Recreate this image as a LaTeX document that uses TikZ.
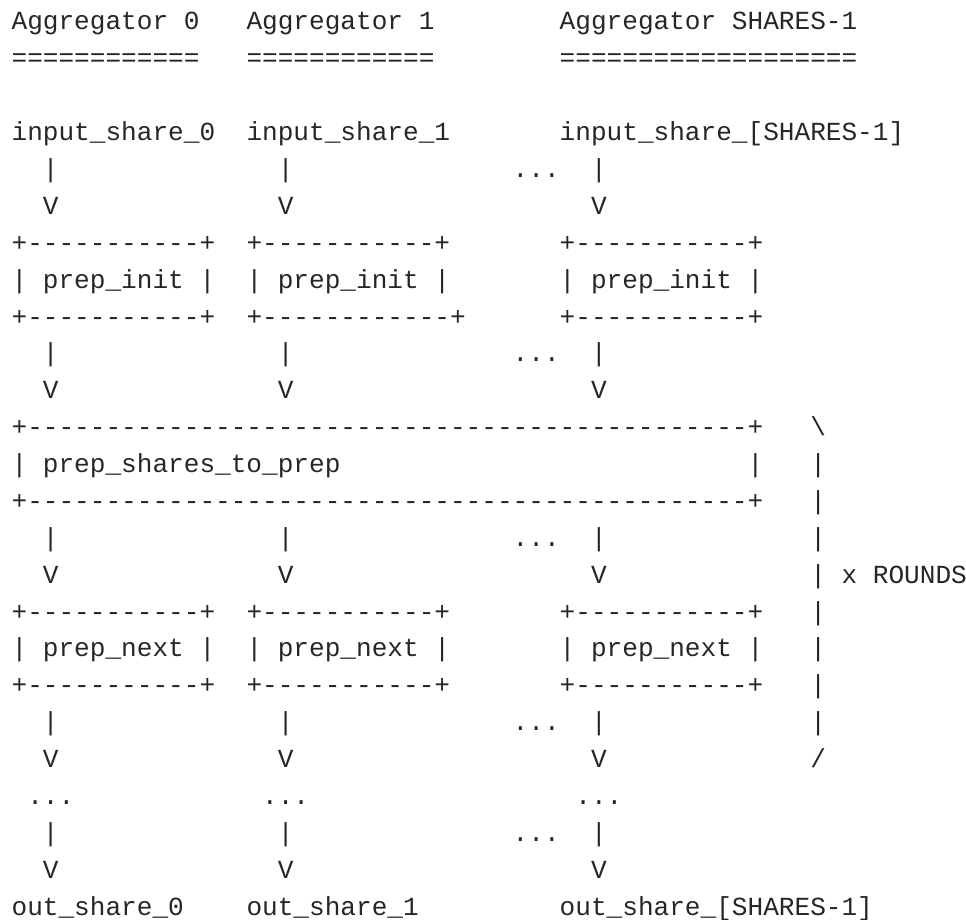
\documentclass[tikz,border=0pt]{standalone}
\usepackage{fontspec}
\setmonofont{Liberation Mono}
\usepackage{tikz}

\tikzset{
  ascii/.style={anchor=base west, inner sep=0pt, outer sep=0pt,
    font=\ttfamily\fontsize{13.05pt}{15pt}\selectfont, text=black!85},
}

\begin{document}
\begin{tikzpicture}[x=7.83pt, y={(0pt,-18.44pt)}]
  \useasboundingbox (-5.8pt,15pt) rectangle (477.2pt,-445pt);

  % headers
  \node[ascii] (agg0) at (0,0)  {Aggregator 0};
  \node[ascii] (agg1) at (15,0) {Aggregator 1};
  \node[ascii] (aggN) at (35,0) {Aggregator SHARES-1};
  \node[ascii] (rule0) at (0,1)  {============};
  \node[ascii] (rule1) at (15,1) {============};
  \node[ascii] (ruleN) at (35,1) {===================};

  % inputs
  \node[ascii] (in0) at (0,3)  {input\_share\_0};
  \node[ascii] (in1) at (15,3) {input\_share\_1};
  \node[ascii] (inN) at (35,3) {input\_share\_[SHARES-1]};

  % down arrows
  \foreach \r in {4,9,14,19,22} {
    \node[ascii] (bar0-\r) at (2,\r)  {|};
    \node[ascii] (bar1-\r) at (17,\r) {|};
    \node[ascii] (dots-\r) at (32,\r) {...};
    \node[ascii] (barN-\r) at (37,\r) {|};
  }
  \foreach \r in {5,10,15,20,23} {
    \node[ascii] (v0-\r) at (2,\r)  {V};
    \node[ascii] (v1-\r) at (17,\r) {V};
    \node[ascii] (vN-\r) at (37,\r) {V};
  }

  % prep_init boxes
  \foreach \c/\n in {0/0,15/1,35/N} {
    \node[ascii] (inittop\n) at (\c,6) {+-----------+};
    \node[ascii] (init\n)    at (\c,7) {| prep\_init |};
  }
  \node[ascii] (initbot0) at (0,8)  {+-----------+};
  \node[ascii] (initbot1) at (15,8) {+------------+};
  \node[ascii] (initbotN) at (35,8) {+-----------+};

  % prep_shares_to_prep
  \node[ascii] (sharestop) at (0,11) {+----------------------------------------------+};
  \node[ascii] (shares)    at (0,12) {| prep\_shares\_to\_prep};
  \node[ascii] (sharesend) at (47,12) {|};
  \node[ascii] (sharesbot) at (0,13) {+----------------------------------------------+};

  % prep_next boxes
  \foreach \c/\n in {0/0,15/1,35/N} {
    \node[ascii] (nexttop\n) at (\c,16) {+-----------+};
    \node[ascii] (next\n)    at (\c,17) {| prep\_next |};
    \node[ascii] (nextbot\n) at (\c,18) {+-----------+};
  }

  % rounds bracket
  \node[ascii] (brtop) at (51,11) {\textbackslash};
  \foreach \r in {12,13,14,16,17,18,19}
    \node[ascii] (br-\r) at (51,\r) {|};
  \node[ascii] (rounds) at (51,15) {| x ROUNDS};
  \node[ascii] (brbot) at (51,20) {/};

  % more rounds
  \node[ascii] (more0) at (1,21)  {...};
  \node[ascii] (more1) at (16,21) {...};
  \node[ascii] (moreN) at (36,21) {...};

  % outputs
  \node[ascii] (out0) at (0,24)  {out\_share\_0};
  \node[ascii] (out1) at (15,24) {out\_share\_1};
  \node[ascii] (outN) at (35,24) {out\_share\_[SHARES-1]};
\end{tikzpicture}
\end{document}
